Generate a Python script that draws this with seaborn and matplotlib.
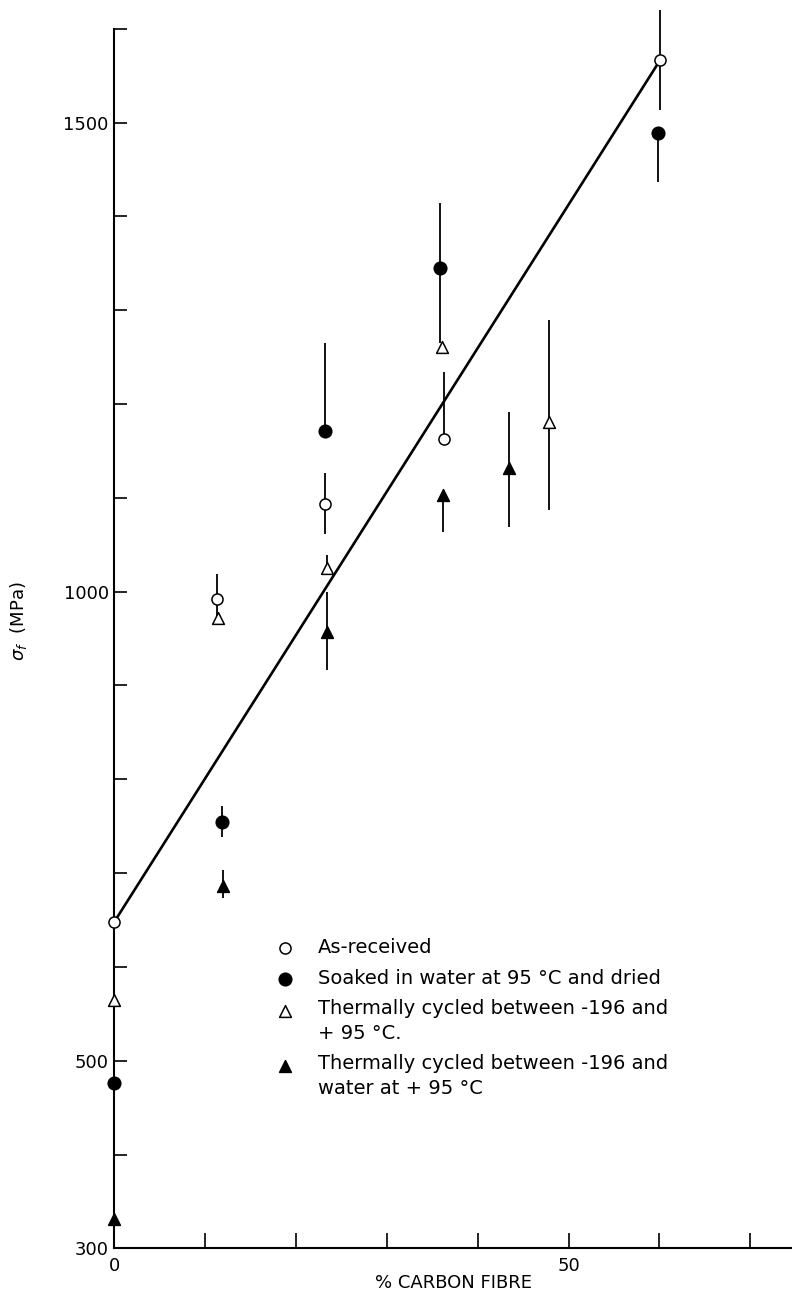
import numpy as np
import pandas as pd
import matplotlib
matplotlib.use("Agg")
import matplotlib.pyplot as plt
from matplotlib.legend_handler import HandlerPathCollection
import seaborn as sns

# ---- data ----
xtick_pos = [0, 10, 20, 30, 40, 50, 60, 70]
xtick_labels = ["0", "", "", "", "", "50", "", ""]
ytick_pos = [300, 400, 500, 600, 700, 800, 900, 1000, 1100, 1200, 1300, 1400, 1500, 1600]
ytick_labels = ["300", "", "500", "", "", "", "", "1000", "", "", "", "", "1500", ""]

asrec_x = [0, 11.3, 23.2, 36.3, 60.1]
asrec_y = [648, 992, 1094, 1163, 1567]
asrec_lo = [0, 18, 33, 0, 53]
asrec_hi = [0, 27, 33, 71, 53]

soak_x = [0, 11.9, 23.2, 35.9, 59.9]
soak_y = [476, 755, 1171, 1345, 1489]
soak_lo = [41, 17, 0, 80, 52]
soak_hi = [48, 17, 94, 69, 0]

cyc_x = [0, 11.4, 23.4, 36.1, 47.9]
cyc_y = [565, 972, 1025, 1261, 1181]
cyc_lo = [38, 0, 0, 0, 94]
cyc_hi = [25, 0, 14, 0, 109]

cycw_x = [0, 12.0, 23.4, 36.2, 43.5]
cycw_y = [331, 686, 957, 1103, 1132]
cycw_lo = [31, 13, 41, 39, 63]
cycw_hi = [33, 17, 43, 0, 60]

fit_x = [0, 60.1]
fit_y = [648, 1567]

labels = [
    "As-received",
    "Soaked in water at 95 °C and dried",
    "Thermally cycled between -196 and\n+ 95 °C.",
    "Thermally cycled between -196 and\nwater at + 95 °C",
]

# ---- figure ----
sns.set_style("ticks")
plt.rcParams["font.family"] = ["DejaVu Sans"]
plt.rcParams["text.color"] = "black"
plt.rcParams["axes.labelcolor"] = "black"
plt.rcParams["xtick.color"] = "black"
plt.rcParams["ytick.color"] = "black"

fig = plt.figure(figsize=(7.92, 12.93), dpi=100)
ax = fig.add_axes([0.1443, 0.03457, 0.8557, 0.94308])

sns.lineplot(x=fit_x, y=fit_y, color="black", linewidth=1.9, ax=ax, zorder=3)

series = [
    (asrec_x, asrec_y, asrec_lo, asrec_hi, "o", "white", 64),
    (soak_x, soak_y, soak_lo, soak_hi, "o", "black", 82),
    (cyc_x, cyc_y, cyc_lo, cyc_hi, "^", "white", 72),
    (cycw_x, cycw_y, cycw_lo, cycw_hi, "^", "black", 72),
]
for (x, y, lo, hi, mk, face, s), lab in zip(series, labels):
    ax.errorbar(x, y, yerr=[lo, hi], fmt="none", ecolor="black",
                elinewidth=1.3, capsize=0, clip_on=False, zorder=2)
    sns.scatterplot(x=x, y=y, marker=mk, s=s, color=face, edgecolor="black",
                    linewidth=1.1, label=lab, clip_on=False, zorder=4, ax=ax)

ax.set_xlim(0, 74.6)
ax.set_ylim(300, 1600)
ax.set_xticks(xtick_pos)
ax.set_xticklabels(xtick_labels)
ax.set_yticks(ytick_pos)
ax.set_yticklabels(ytick_labels)
ax.tick_params(axis="x", direction="in", length=11, width=1.2, labelsize=13, pad=6)
ax.tick_params(axis="y", direction="in", length=9, width=1.2, labelsize=13, pad=4)

sns.despine(ax=ax)
for sp in ("left", "bottom"):
    ax.spines[sp].set_linewidth(1.5)
    ax.spines[sp].set_color("black")

ax.set_xlabel("% CARBON FIBRE", fontsize=13)
ax.xaxis.label.set_va("baseline")
ax.xaxis.set_label_coords(0.5, -0.0325)
ax.set_ylabel(r"$\sigma_f$  (MPa)", fontsize=13)
ax.yaxis.label.set_va("center")
ax.yaxis.set_label_coords(-0.1406, 0.514)

h, l = ax.get_legend_handles_labels()
hmap = {h[2]: HandlerPathCollection(yoffsets=[1.3]),
        h[3]: HandlerPathCollection(yoffsets=[1.3])}
leg = ax.legend(h, l, loc="upper left",
                bbox_to_anchor=(275 / 792, 1 - 938 / 1293),
                bbox_transform=fig.transFigure, handler_map=hmap,
                frameon=False, fontsize=14, handlelength=1.0, handletextpad=1.2,
                borderpad=0, borderaxespad=0, labelspacing=0.6)
for t in leg.get_texts():
    t.set_linespacing(1.35)

fig.savefig("out.png", dpi=100)
